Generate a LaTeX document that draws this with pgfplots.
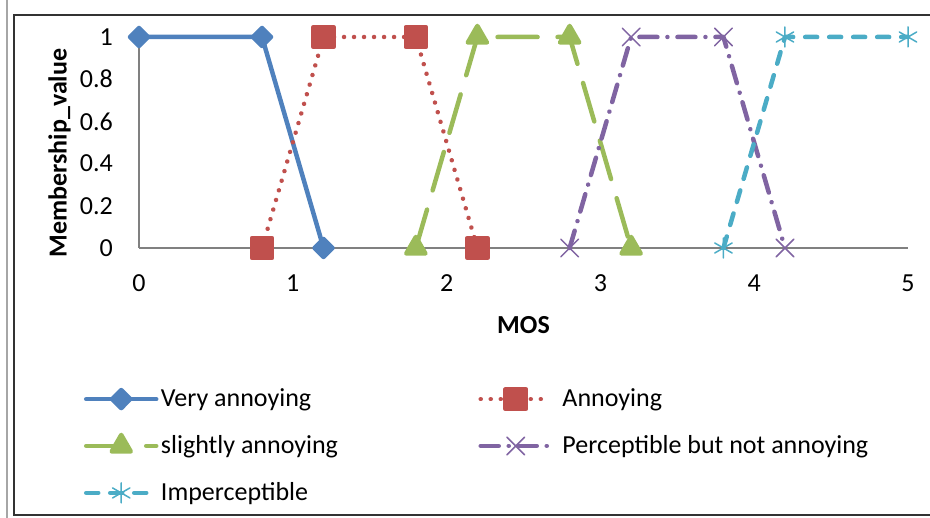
\documentclass[border=0pt]{standalone}
\usepackage{fontspec}
\setmainfont{Carlito}
\usepackage{pgfplots}
\pgfplotsset{compat=1.18}
\definecolor{cblue}{HTML}{4F81BD}
\definecolor{cred}{HTML}{C0504D}
\definecolor{cgreen}{HTML}{9BBB59}
\definecolor{cpurple}{HTML}{8064A2}
\definecolor{ccyan}{HTML}{4BACC6}
\begin{document}
\fontsize{26}{31}\selectfont
\begin{tikzpicture}[x=1pt,y=1pt]
\useasboundingbox (0,0) rectangle (930,518);
\draw[black!35, line width=2.5pt] (7,0) -- (7,518);
\draw[black!80, line width=2pt] (930,503) -- (14,503) -- (14,3) -- (930,3);
\begin{axis}[
  at={(139pt,270pt)}, anchor=south west,
  scale only axis, width=769pt, height=211pt,
  xmin=0, xmax=5, ymin=0, ymax=1,
  clip=false,
  axis x line*=bottom, axis y line*=left,
  axis line style={draw=black!50, line width=1.5pt, -},
  major tick length=0pt,
  xtick={0,1,2,3,4,5},
  ytick={0,0.2,0.4,0.6,0.8,1},
  /pgf/number format/assume math mode=true,
  xticklabel style={anchor=center, inner sep=0pt, yshift=-35pt},
  yticklabel style={anchor=east, inner sep=0pt, xshift=-26pt},
  xlabel={\bfseries MOS},
  ylabel={\bfseries Membership\_value},
  xlabel style={at={(axis description cs:0.5,-0.365)}, anchor=center, inner sep=0pt},
  ylabel style={at={(axis description cs:-0.1034,0.45)}, anchor=center, inner sep=0pt},
  legend columns=2,
  legend cell align=left,
  legend image code/.code={\draw[mark repeat=2, mark phase=2] plot coordinates {(0pt,0pt) (35pt,0pt) (70pt,0pt)};},
  legend style={draw=none, fill=none, at={(axis description cs:-0.0757,-0.654)}, anchor=north west,
    row sep=25pt, nodes={inner xsep=2.5pt, inner ysep=0pt}},
  every axis plot/.append style={line width=4.5pt, line cap=round, line join=round},
]
\addplot[color=cblue, mark=diamond*, mark size=9pt, mark options={solid, xscale=1.33}]
  coordinates {(0,1) (0.8,1) (1.2,0)};
\addlegendentry{\makebox[315pt][l]{Very annoying}}
\addplot[color=cred, dash pattern=on 0.01pt off 10pt, mark=square*, mark size=10pt, mark options={solid}]
  coordinates {(0.8,0) (1.2,1) (1.8,1) (2.2,0)};
\addlegendentry{\hspace{7pt}Annoying}
\addplot[color=cgreen, dash pattern=on 40pt off 20pt, mark=triangle*, mark size=11pt, mark options={solid}]
  coordinates {(1.8,0) (2.2,1) (2.8,1) (3.2,0)};
\addlegendentry{\makebox[315pt][l]{slightly annoying}}
\addplot[color=cpurple, dash pattern=on 18pt off 10pt on 0.01pt off 10pt, mark=x, mark size=12.5pt, mark options={solid, line width=1.5pt}]
  coordinates {(2.8,0) (3.2,1) (3.8,1) (4.2,0)};
\addlegendentry{\hspace{7pt}Perceptible but not annoying}
\addplot[color=ccyan, dash pattern=on 12pt off 12pt, mark=asterisk, mark size=10pt, mark options={solid, line width=1.5pt}]
  coordinates {(3.8,0) (4.2,1) (5,1)};
\addlegendentry{\makebox[315pt][l]{Imperceptible}}
\end{axis}
\end{tikzpicture}
\end{document}
